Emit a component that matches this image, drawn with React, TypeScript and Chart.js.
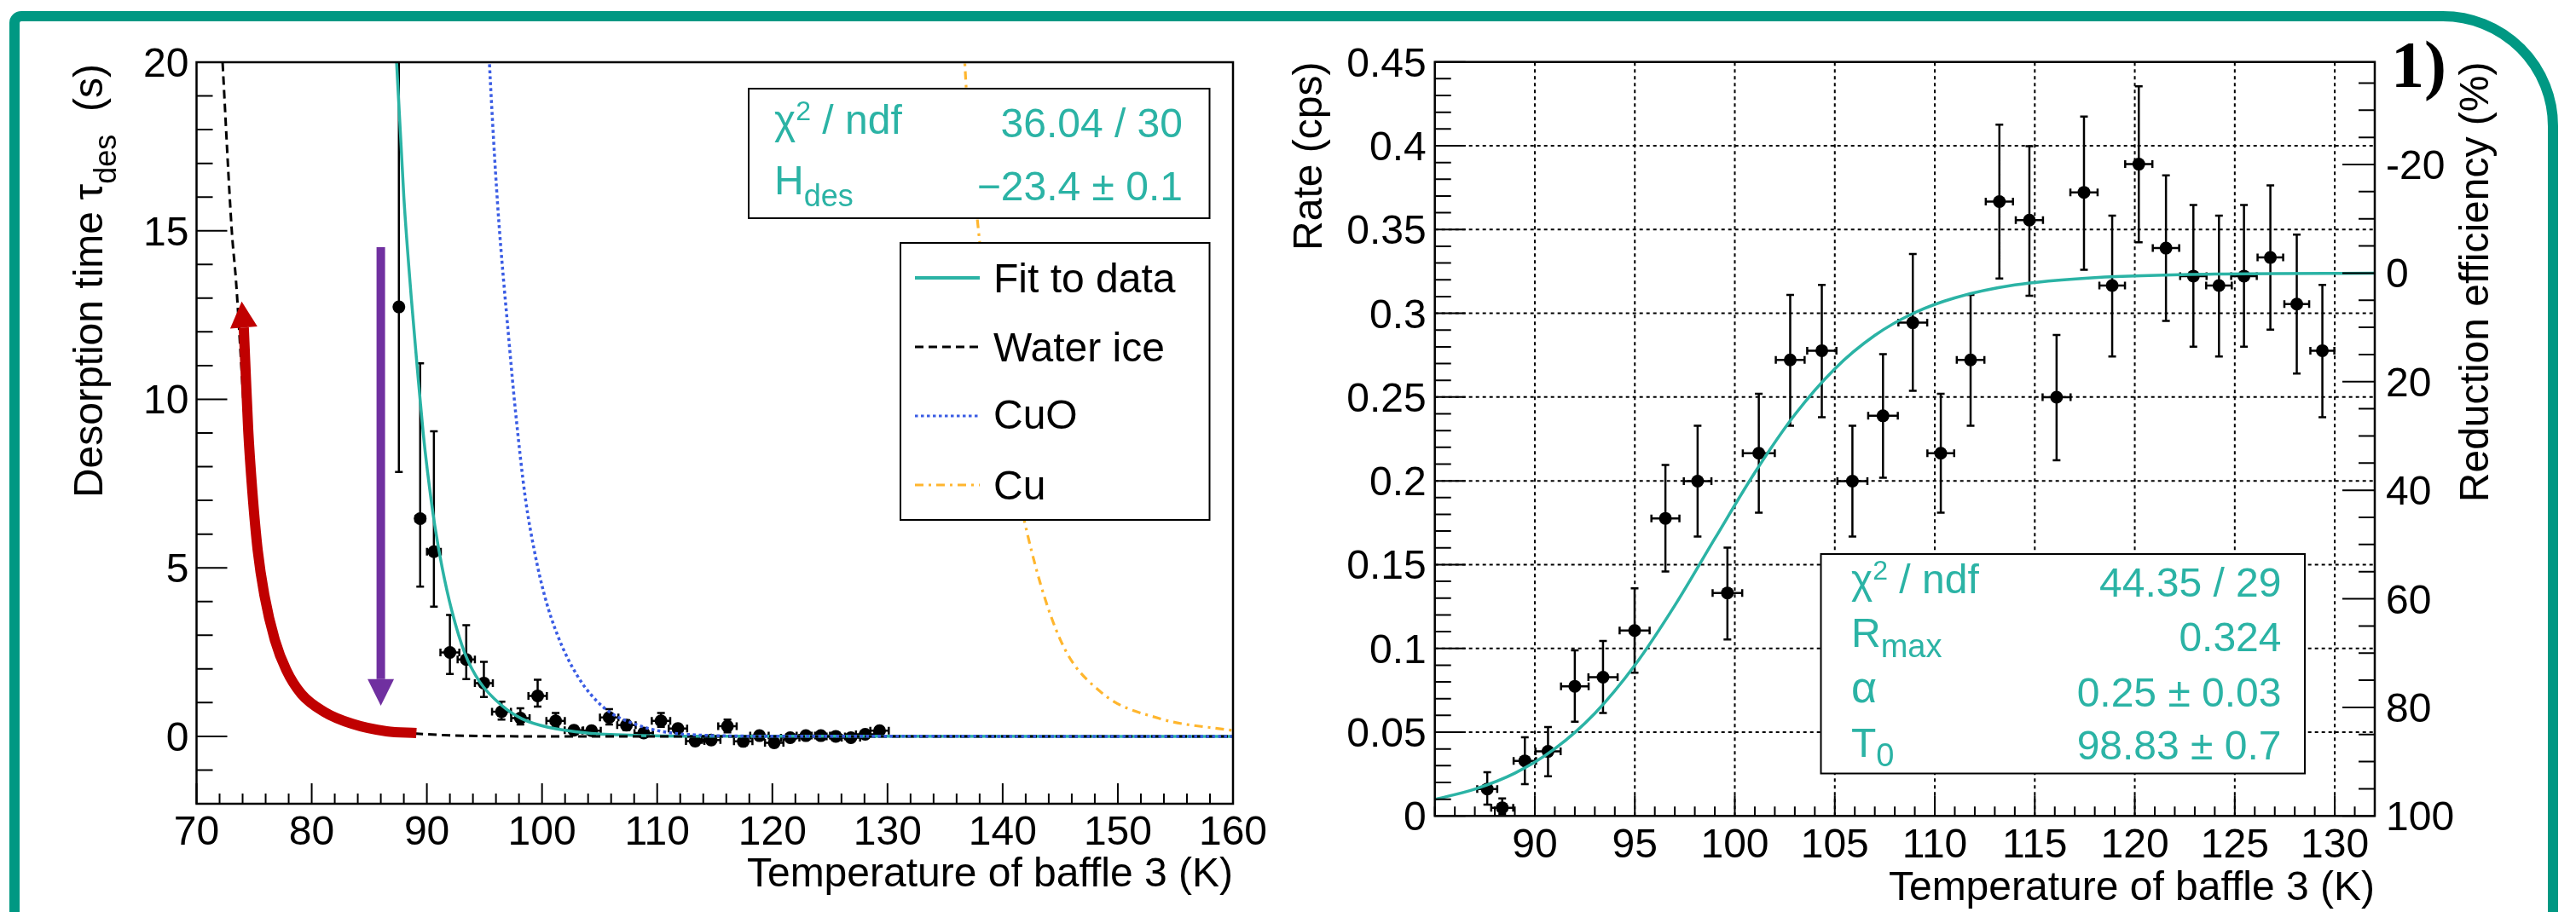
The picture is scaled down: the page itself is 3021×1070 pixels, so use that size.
import React, { useEffect, useRef } from "react";
import { Chart, registerables } from "chart.js";

Chart.register(...registerables);

// ================= LEFT PANEL: desorption time =================
const tempBaffle = [87.57, 89.42, 90.61, 92.0, 93.42, 94.95, 96.48, 98.12, 99.62, 101.18, 102.77, 104.3, 105.83, 107.33, 108.83, 110.33, 111.8, 113.3, 114.69, 116.1, 117.47, 118.88, 120.16, 121.55, 122.91, 124.21, 125.51, 126.82, 128.06, 129.31];
const tempBaffleErr = [0.3, 0.4, 0.6, 0.82, 0.75, 0.78, 0.82, 0.8, 0.8, 0.8, 0.8, 0.8, 0.8, 0.8, 0.8, 0.8, 0.8, 0.8, 0.8, 0.8, 0.8, 0.8, 0.8, 0.8, 0.8, 0.8, 0.8, 0.8, 0.8, 0.8];
const desorptionTime = [12.74, 6.46, 5.48, 2.49, 2.28, 1.58, 0.73, 0.54, 1.2, 0.46, 0.18, 0.17, 0.56, 0.33, 0.1, 0.46, 0.23, -0.14, -0.11, 0.3, -0.15, 0.02, -0.19, -0.04, 0.02, 0.02, 0.0, -0.04, 0.06, 0.17];
const desorptionHigh = [21.5, 11.07, 9.05, 3.6, 3.3, 2.21, 1.03, 0.83, 1.68, 0.69, 0.3, 0.29, 0.81, 0.48, 0.22, 0.69, 0.35, -0.02, 0.01, 0.5, -0.03, 0.13, -0.08, 0.06, 0.11, 0.11, 0.09, 0.06, 0.15, 0.27];
const desorptionLow = [7.84, 4.44, 3.85, 1.85, 1.7, 1.17, 0.5, 0.35, 0.88, 0.28, 0.06, 0.05, 0.35, 0.18, -0.02, 0.28, 0.11, -0.26, -0.23, 0.12, -0.27, -0.09, -0.31, -0.14, -0.07, -0.07, -0.09, -0.14, -0.03, 0.07];

// Curves
const fitTemp = [87.25, 87.37, 88.0, 88.65, 89.2, 89.68, 90.04, 90.69, 91.33, 92.17, 93.3, 94.58, 96.42, 98.26, 100.53, 103.93, 108, 115, 125, 160];
const fitTau = [21, 20, 16, 13, 10.8, 9.0, 7.9, 6.25, 5.0, 3.72, 2.46, 1.62, 0.94, 0.52, 0.27, 0.1, 0.03, 0.005, 0.001, 0];
const waterTemp = [71.95, 72.26, 73.06, 73.43, 73.8, 74.1, 74.5, 75.0, 75.89, 76.8, 77.79, 79.1, 81.07, 83.54, 86.5, 89.09, 92, 100, 160];
const waterTau = [22, 20, 15, 13.5, 11.5, 9.8, 7.8, 5.9, 4.19, 2.86, 1.97, 1.26, 0.73, 0.37, 0.15, 0.08, 0.03, 0.0, 0];
const cuoTemp = [95.3, 95.43, 96.14, 97.13, 97.7, 98.54, 99.39, 100.24, 101.38, 103.08, 105.34, 108.18, 112.43, 120, 160];
const cuoTau = [21, 20, 15.8, 11.73, 9.63, 7.1, 5.41, 4.15, 2.97, 1.79, 0.86, 0.35, 0.06, 0.005, 0];
const cuTemp = [136.6, 136.71, 137.9, 140.04, 142.17, 145.0, 148.54, 153.5, 160];
const cuTau = [21, 20, 15, 9.77, 5.97, 2.87, 1.31, 0.54, 0.17];

// Annotation arrows (data coordinates)
const redArrowTemp = [74.1, 74.26, 74.49, 74.84, 75.31, 75.89, 76.8, 77.79, 79.1, 81.07, 83.54, 86.5, 89.09];
const redArrowTau = [12.13, 10.84, 9.07, 7.29, 5.52, 4.19, 2.86, 1.97, 1.26, 0.73, 0.37, 0.15, 0.1];
const redHeadTip = [73.92, 12.9];
const purpleArrowTemp = [86.0, 86.0];
const purpleArrowTau = [14.51, 1.7];
const purpleHeadTip = [86.0, 0.91];

const leftTempTicks = [70, 80, 90, 100, 110, 120, 130, 140, 150, 160];
const leftTempLabels = ["70", "80", "90", "100", "110", "120", "130", "140", "150", "160"];
const leftTauTicks = [0, 5, 10, 15, 20];
const leftTauLabels = ["0", "5", "10", "15", "20"];

// ================= RIGHT PANEL: rate =================
const tempRate = [87.62, 88.37, 89.5, 90.66, 92.0, 93.41, 94.99, 96.53, 98.14, 99.63, 101.2, 102.77, 104.35, 105.88, 107.41, 108.9, 110.3, 111.79, 113.23, 114.73, 116.09, 117.46, 118.87, 120.2, 121.56, 122.93, 124.21, 125.46, 126.78, 128.1, 129.38];
const tempRateErr = [0.5, 0.55, 0.56, 0.63, 0.69, 0.73, 0.75, 0.7, 0.69, 0.74, 0.8, 0.72, 0.73, 0.75, 0.74, 0.72, 0.67, 0.69, 0.68, 0.68, 0.7, 0.68, 0.64, 0.68, 0.66, 0.66, 0.64, 0.64, 0.64, 0.62, 0.6];
const rateValues = [0.0161, 0.0049, 0.0329, 0.0385, 0.0774, 0.0828, 0.1107, 0.1776, 0.1998, 0.1331, 0.2165, 0.2722, 0.2777, 0.1998, 0.2388, 0.2944, 0.2165, 0.2722, 0.3667, 0.3556, 0.2499, 0.3722, 0.3166, 0.389, 0.3389, 0.3222, 0.3166, 0.3222, 0.3333, 0.3055, 0.2777];
const rateHigh = [0.0261, 0.0105, 0.0469, 0.053, 0.0988, 0.1044, 0.1358, 0.2095, 0.2329, 0.1602, 0.252, 0.311, 0.317, 0.2329, 0.2756, 0.3354, 0.252, 0.311, 0.4126, 0.3997, 0.2871, 0.4174, 0.3583, 0.4355, 0.3823, 0.3646, 0.3583, 0.3646, 0.3764, 0.3469, 0.317];
const rateLow = [0.0068, 0.0012, 0.019, 0.0237, 0.0563, 0.0614, 0.0855, 0.1459, 0.1668, 0.1053, 0.181, 0.2329, 0.238, 0.1668, 0.2019, 0.2537, 0.181, 0.2329, 0.3208, 0.3104, 0.2123, 0.326, 0.2742, 0.3424, 0.2954, 0.2801, 0.2742, 0.2801, 0.2902, 0.2641, 0.238];

const fitRateTemp = [85, 87, 89, 91, 93, 95, 97, 99, 101, 103, 105, 107, 109, 111, 114, 118, 124, 132];
const fitRate = [0.0099, 0.016, 0.0255, 0.0401, 0.0612, 0.0899, 0.1256, 0.1655, 0.2049, 0.2395, 0.2669, 0.2868, 0.3004, 0.3092, 0.3169, 0.3213, 0.3234, 0.3239];
const R_MAX = 0.324;

const rightTempTicks = [90, 95, 100, 105, 110, 115, 120, 125, 130];
const rightTempLabels = ["90", "95", "100", "105", "110", "115", "120", "125", "130"];
const rateTicks = [0, 0.05, 0.1, 0.15, 0.2, 0.25, 0.3, 0.35, 0.4, 0.45];
const rateLabels = ["0", "0.05", "0.1", "0.15", "0.2", "0.25", "0.3", "0.35", "0.4", "0.45"];
const effTicks = [-20, 0, 20, 40, 60, 80, 100];
const effLabels = ["-20", "0", "20", "40", "60", "80", "100"];

// ================= styles =================
const TEAL = "#2bb3a5";
const FRAME_TEAL = "#009883";
const BLUE = "#3a5ce4";
const ORANGE = "#ffb62e";
const RED = "#c00000";
const PURPLE = "#7030a0";
const SANS = '"Liberation Sans", Arial, Helvetica, sans-serif';
const SERIF = '"Liberation Serif", "Times New Roman", serif';

const font = (s: number, bold = false, fam = SANS) => `${bold ? "bold " : ""}${s}px ${fam}`;
const pts = (xs: number[], ys: number[]) => xs.map((x, i) => ({ x, y: ys[i] }));

type Seg = { t: string; s: number; dy?: number };
function segWidth(ctx: any, segs: Seg[]) {
  let w = 0;
  for (const g of segs) { ctx.font = font(g.s); w += ctx.measureText(g.t).width; }
  return w;
}
function drawSegs(ctx: any, segs: Seg[], x: number, y: number, align: string, color: string) {
  ctx.fillStyle = color;
  ctx.textAlign = "left";
  ctx.textBaseline = "alphabetic";
  let cx = align === "right" ? x - segWidth(ctx, segs) : x;
  for (const g of segs) {
    ctx.font = font(g.s);
    ctx.fillText(g.t, cx, y + (g.dy || 0));
    cx += ctx.measureText(g.t).width;
  }
}
function titleY(ctx: any, segs: Seg[], baseX: number, topY: number) {
  ctx.save();
  ctx.translate(baseX, topY);
  ctx.rotate(-Math.PI / 2);
  drawSegs(ctx, segs, 0, 0, "right", "#000");
  ctx.restore();
}
function minorValues(min: number, max: number, step: number) {
  const out: number[] = [];
  const start = Math.ceil(min / step - 1e-9);
  for (let k = start; k * step <= max + 1e-9; k++) out.push(Math.round(k * step * 1e6) / 1e6);
  return out;
}
const isMajor = (v: number, majors: number[]) => majors.some((m) => Math.abs(m - v) < 1e-6);

function ticksBottom(ctx: any, a: any, sc: any, majors: number[], step: number, lMaj: number, lMin: number) {
  ctx.beginPath();
  for (const v of minorValues(sc.min, sc.max, step)) {
    const px = sc.getPixelForValue(v);
    const L = isMajor(v, majors) ? lMaj : lMin;
    ctx.moveTo(px, a.bottom);
    ctx.lineTo(px, a.bottom - L);
  }
  ctx.stroke();
}
function ticksSide(ctx: any, a: any, sc: any, majors: number[], step: number, lMaj: number, lMin: number, side: string) {
  const x0 = side === "left" ? a.left : a.right;
  const dir = side === "left" ? 1 : -1;
  const lo = Math.min(sc.min, sc.max), hi = Math.max(sc.min, sc.max);
  ctx.beginPath();
  for (const v of minorValues(lo, hi, step)) {
    const py = sc.getPixelForValue(v);
    const L = isMajor(v, majors) ? lMaj : lMin;
    ctx.moveTo(x0, py);
    ctx.lineTo(x0 + dir * L, py);
  }
  ctx.stroke();
}
function labelsBottom(ctx: any, a: any, sc: any, majors: number[], texts: string[], off: number) {
  ctx.font = font(48);
  ctx.fillStyle = "#000";
  ctx.textAlign = "center";
  ctx.textBaseline = "alphabetic";
  majors.forEach((v, i) => ctx.fillText(texts[i], sc.getPixelForValue(v), a.bottom + off));
}
function labelsSide(ctx: any, a: any, sc: any, majors: number[], texts: string[], side: string, gap: number) {
  ctx.font = font(48);
  ctx.fillStyle = "#000";
  ctx.textAlign = side === "left" ? "right" : "left";
  ctx.textBaseline = "alphabetic";
  const x = side === "left" ? a.left - gap : a.right + gap;
  majors.forEach((v, i) => ctx.fillText(texts[i], x, sc.getPixelForValue(v) + 17));
}
function errorBars(ctx: any, a: any, xs: any, ys: any, X: number[], Y: number[], EX: number[], HI: number[], LO: number[]) {
  ctx.save();
  ctx.beginPath();
  ctx.rect(a.left, a.top, a.right - a.left, a.bottom - a.top);
  ctx.clip();
  ctx.strokeStyle = "#000";
  ctx.lineWidth = 2.5;
  const cap = 4.5;
  ctx.beginPath();
  X.forEach((x, i) => {
    const px = xs.getPixelForValue(x);
    const py = ys.getPixelForValue(Y[i]);
    const ph = ys.getPixelForValue(HI[i]);
    const pl = ys.getPixelForValue(LO[i]);
    const pxl = xs.getPixelForValue(x - EX[i]);
    const pxr = xs.getPixelForValue(x + EX[i]);
    ctx.moveTo(px, ph); ctx.lineTo(px, pl);
    ctx.moveTo(px - cap, ph); ctx.lineTo(px + cap, ph);
    ctx.moveTo(px - cap, pl); ctx.lineTo(px + cap, pl);
    ctx.moveTo(pxl, py); ctx.lineTo(pxr, py);
    ctx.moveTo(pxl, py - cap); ctx.lineTo(pxl, py + cap);
    ctx.moveTo(pxr, py - cap); ctx.lineTo(pxr, py + cap);
  });
  ctx.stroke();
  ctx.restore();
}
function arrowHead(ctx: any, tx: number, ty: number, bx: number, by: number, w: number, color: string) {
  const dx = tx - bx, dy = ty - by;
  const L = Math.hypot(dx, dy) || 1;
  const nx = -dy / L, ny = dx / L;
  ctx.fillStyle = color;
  ctx.beginPath();
  ctx.moveTo(tx, ty);
  ctx.lineTo(bx + (nx * w) / 2, by + (ny * w) / 2);
  ctx.lineTo(bx - (nx * w) / 2, by - (ny * w) / 2);
  ctx.closePath();
  ctx.fill();
}
function box(ctx: any, x0: number, y0: number, x1: number, y1: number) {
  ctx.fillStyle = "#fff";
  ctx.fillRect(x0, y0, x1 - x0, y1 - y0);
  ctx.strokeStyle = "#000";
  ctx.lineWidth = 2;
  ctx.setLineDash([]);
  ctx.strokeRect(x0, y0, x1 - x0, y1 - y0);
}

// ================= plugins =================
const leftDecor = {
  id: "leftDecor",
  beforeDatasetsDraw(chart: any) {
    const { ctx, chartArea: a, scales } = chart;
    errorBars(ctx, a, scales.x, scales.y, tempBaffle, desorptionTime, tempBaffleErr, desorptionHigh, desorptionLow);
  },
  afterDatasetsDraw(chart: any) {
    const { ctx, chartArea: a, scales } = chart;
    const xs = scales.x, ys = scales.y;
    ctx.save();
    // arrowheads
    const rb = chart.data.datasets[4].data[0];
    arrowHead(ctx, xs.getPixelForValue(redHeadTip[0]), ys.getPixelForValue(redHeadTip[1]), xs.getPixelForValue(rb.x), ys.getPixelForValue(rb.y), 32, RED);
    const pb = chart.data.datasets[5].data[1];
    arrowHead(ctx, xs.getPixelForValue(purpleHeadTip[0]), ys.getPixelForValue(purpleHeadTip[1]), xs.getPixelForValue(pb.x), ys.getPixelForValue(pb.y), 31, PURPLE);
    // frame and ticks
    ctx.strokeStyle = "#000";
    ctx.lineWidth = 2.5;
    ctx.setLineDash([]);
    ctx.strokeRect(a.left, a.top, a.right - a.left, a.bottom - a.top);
    ctx.lineWidth = 2;
    ticksBottom(ctx, a, xs, leftTempTicks, 2, 24, 12);
    ticksSide(ctx, a, ys, leftTauTicks, 1, 36, 19, "left");
    labelsBottom(ctx, a, xs, leftTempTicks, leftTempLabels, 48);
    labelsSide(ctx, a, ys, leftTauTicks, leftTauLabels, "left", 9);
    drawSegs(ctx, [{ t: "Temperature of baffle 3 (K)", s: 48 }], a.right, a.bottom + 97, "right", "#000");
    titleY(ctx, [{ t: "Desorption time \u03c4", s: 48 }, { t: "des", s: 36, dy: 16 }, { t: "  (s)", s: 48 }], 120, 75);
    // stat box
    box(ctx, 878, 104, 1418.5, 256);
    drawSegs(ctx, [{ t: "\u03c7", s: 48 }, { t: "2", s: 32, dy: -16 }, { t: " / ndf", s: 48 }], 908, 157, "left", TEAL);
    drawSegs(ctx, [{ t: "36.04 / 30", s: 48 }], 1387, 160.5, "right", TEAL);
    drawSegs(ctx, [{ t: "H", s: 48 }, { t: "des", s: 36, dy: 14 }], 908, 227.5, "left", TEAL);
    drawSegs(ctx, [{ t: "\u221223.4 \u00b1 0.1", s: 48 }], 1387, 234.5, "right", TEAL);
    // legend
    box(ctx, 1056, 285, 1418.5, 610);
    const ly = [326, 407, 488, 569];
    const lb = [343, 424, 503, 586];
    for (let i = 0; i < 4; i++) {
      const ds = chart.data.datasets[i];
      ctx.strokeStyle = ds.borderColor;
      ctx.lineWidth = i === 0 ? 4 : 3.2;
      ctx.setLineDash(ds.borderDash || []);
      ctx.beginPath();
      ctx.moveTo(1073, ly[i]);
      ctx.lineTo(1149, ly[i]);
      ctx.stroke();
      ctx.setLineDash([]);
      drawSegs(ctx, [{ t: ds.label, s: 48 }], 1165, lb[i], "left", "#000");
    }
    ctx.restore();
  },
};

const EFF_TOP = (1 - 0.45 / R_MAX) * 100;

const rightDecor = {
  id: "rightDecor",
  beforeDatasetsDraw(chart: any) {
    const { ctx, chartArea: a, scales } = chart;
    const xs = scales.x, ys = scales.y;
    ctx.save();
    ctx.strokeStyle = "#000";
    ctx.lineWidth = 2;
    ctx.setLineDash([4, 4]);
    ctx.beginPath();
    rightTempTicks.forEach((v) => {
      const px = xs.getPixelForValue(v);
      ctx.moveTo(px, a.bottom);
      ctx.lineTo(px, a.top);
    });
    rateTicks.forEach((v) => {
      if (v <= 0 || v >= 0.45) return;
      const py = ys.getPixelForValue(v);
      ctx.moveTo(a.left, py);
      ctx.lineTo(a.right, py);
    });
    ctx.stroke();
    ctx.restore();
    errorBars(ctx, a, xs, ys, tempRate, rateValues, tempRateErr, rateHigh, rateLow);
  },
  afterDatasetsDraw(chart: any) {
    const { ctx, chartArea: a, scales } = chart;
    const xs = scales.x, ys = scales.y, y2 = scales.y2;
    ctx.save();
    ctx.strokeStyle = "#000";
    ctx.lineWidth = 2.5;
    ctx.setLineDash([]);
    ctx.strokeRect(a.left, a.top, a.right - a.left, a.bottom - a.top);
    ctx.lineWidth = 2;
    ticksBottom(ctx, a, xs, rightTempTicks, 1, 24, 11);
    ticksSide(ctx, a, ys, rateTicks, 0.01, 36, 19, "left");
    ticksSide(ctx, a, y2, effTicks, 5, 38, 19, "right");
    labelsBottom(ctx, a, xs, rightTempTicks, rightTempLabels, 48.5);
    labelsSide(ctx, a, ys, rateTicks, rateLabels, "left", 10);
    labelsSide(ctx, a, y2, effTicks, effLabels, "right", 13);
    drawSegs(ctx, [{ t: "Temperature of baffle 3 (K)", s: 48 }], a.right, a.bottom + 98.5, "right", "#000");
    titleY(ctx, [{ t: "Rate (cps)", s: 48 }], 50, 72.5);
    titleY(ctx, [{ t: "Reduction efficiency (%)", s: 48 }], 1418, 72.5);
    // panel label
    ctx.font = font(78, true, SERIF);
    ctx.fillStyle = "#000";
    ctx.textAlign = "left";
    ctx.textBaseline = "alphabetic";
    ctx.fillText("1)", 1304, 102);
    // stat box
    box(ctx, 635.5, 650, 1203, 907.5);
    const lx = 671, vx = 1175.5;
    drawSegs(ctx, [{ t: "\u03c7", s: 48 }, { t: "2", s: 32, dy: -16 }, { t: " / ndf", s: 48 }], lx, 696, "left", TEAL);
    drawSegs(ctx, [{ t: "44.35 / 29", s: 48 }], vx, 699.5, "right", TEAL);
    drawSegs(ctx, [{ t: "R", s: 48 }, { t: "max", s: 38, dy: 12 }], lx, 759, "left", TEAL);
    drawSegs(ctx, [{ t: "0.324", s: 48 }], vx, 764, "right", TEAL);
    drawSegs(ctx, [{ t: "\u03b1", s: 52 }], lx, 824, "left", TEAL);
    drawSegs(ctx, [{ t: "0.25 \u00b1 0.03", s: 48 }], vx, 829, "right", TEAL);
    drawSegs(ctx, [{ t: "T", s: 48 }, { t: "0", s: 38, dy: 11 }], lx, 888, "left", TEAL);
    drawSegs(ctx, [{ t: "98.83 \u00b1 0.7", s: 48 }], vx, 890.5, "right", TEAL);
    ctx.restore();
  },
};

const common = {
  animation: false,
  responsive: false,
  devicePixelRatio: 1,
  events: [],
  plugins: { legend: { display: false }, tooltip: { enabled: false } },
};

function leftConfig(): any {
  return {
    type: "line",
    data: {
      datasets: [
        { label: "Fit to data", data: pts(fitTemp, fitTau), borderColor: TEAL, borderWidth: 3.5, pointRadius: 0, cubicInterpolationMode: "monotone", order: 2 },
        { label: "Water ice", data: pts(waterTemp, waterTau), borderColor: "#000", borderWidth: 3, borderDash: [10, 6], pointRadius: 0, cubicInterpolationMode: "monotone", order: 1 },
        { label: "CuO", data: pts(cuoTemp, cuoTau), borderColor: BLUE, borderWidth: 3.5, borderDash: [3.5, 3.5], pointRadius: 0, cubicInterpolationMode: "monotone", order: 0 },
        { label: "Cu", data: pts(cuTemp, cuTau), borderColor: ORANGE, borderWidth: 3.2, borderDash: [10, 6, 3, 6], pointRadius: 0, cubicInterpolationMode: "monotone", order: 3 },
        { label: "red arrow", data: pts(redArrowTemp, redArrowTau), borderColor: RED, borderWidth: 12, pointRadius: 0, cubicInterpolationMode: "monotone", order: -1 },
        { label: "purple arrow", data: pts(purpleArrowTemp, purpleArrowTau), borderColor: PURPLE, borderWidth: 10, pointRadius: 0, tension: 0, order: -1 },
        { label: "data", data: pts(tempBaffle, desorptionTime), showLine: false, pointRadius: 7.5, pointBackgroundColor: "#000", pointBorderWidth: 0, order: 10 },
      ],
    },
    options: {
      ...common,
      layout: { padding: { left: 230.5, right: 54, top: 73, bottom: 127 } },
      scales: {
        x: { type: "linear", min: 70, max: 160, display: false },
        y: { type: "linear", min: -2, max: 20, display: false },
      },
    },
    plugins: [leftDecor],
  };
}

function rightConfig(): any {
  return {
    type: "line",
    data: {
      datasets: [
        { label: "Fit", data: pts(fitRateTemp, fitRate), borderColor: TEAL, borderWidth: 3.5, pointRadius: 0, cubicInterpolationMode: "monotone", order: 1 },
        { label: "data", data: pts(tempRate, rateValues), showLine: false, pointRadius: 7.5, pointBackgroundColor: "#000", pointBorderWidth: 0, order: 10 },
      ],
    },
    options: {
      ...common,
      layout: { padding: { left: 182.7, right: 236, top: 72.7, bottom: 112.7 } },
      scales: {
        x: { type: "linear", min: 85, max: 132, display: false },
        y: { type: "linear", min: 0, max: 0.45, display: false },
        y2: { type: "linear", position: "right", min: EFF_TOP, max: 100, reverse: true, display: false },
      },
    },
    plugins: [rightDecor],
  };
}

function ChartCanvas({ make, left, width }: { make: () => any; left: number; width: number }) {
  const ref = useRef<HTMLCanvasElement>(null);
  useEffect(() => {
    const chart = new Chart(ref.current as HTMLCanvasElement, make());
    return () => chart.destroy();
  }, []);
  return (
    <canvas
      ref={ref}
      width={width}
      height={1070}
      style={{ position: "absolute", left, top: 0, width, height: 1070 }}
    />
  );
}

export default function App() {
  return (
    <div style={{ position: "absolute", left: 0, top: 0, width: 3021, height: 1070, overflow: "hidden", background: "#fff" }}>
      <div
        style={{
          position: "absolute",
          left: 11,
          top: 13,
          width: 2989,
          height: 1250,
          border: `12px solid ${FRAME_TEAL}`,
          borderTopLeftRadius: 14,
          borderTopRightRadius: 135,
          boxSizing: "border-box",
        }}
      />
      <ChartCanvas make={leftConfig} left={0} width={1500} />
      <ChartCanvas make={rightConfig} left={1500} width={1521} />
    </div>
  );
}
